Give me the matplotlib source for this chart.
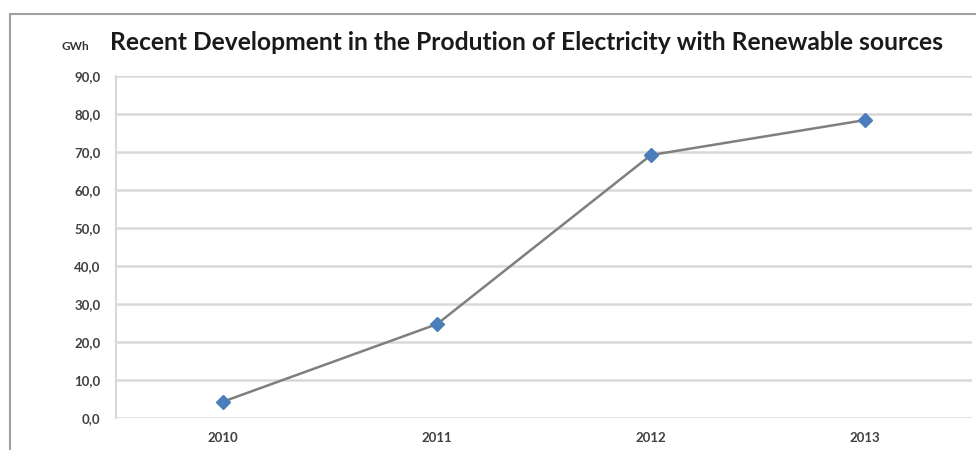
import matplotlib.pyplot as plt
from matplotlib.lines import Line2D

# Data
years = ["2010", "2011", "2012", "2013"]
gwh = [4.3, 24.7, 69.2, 78.4]
yticks = [0, 10, 20, 30, 40, 50, 60, 70, 80, 90]

plt.rcParams["font.family"] = ["Lato", "DejaVu Sans"]

fig = plt.figure(figsize=(9.76, 4.5), dpi=100)
ax = fig.add_axes([116 / 976, 1 - 418 / 450, (972 - 116) / 976, (418 - 76) / 450])

ax.plot(range(len(years)), gwh, color="#7f7f7f", linewidth=1.8, zorder=3)
ax.plot(range(len(years)), gwh, linestyle="none", marker="D", markersize=7,
        color="#4a7ebb", zorder=4)

ax.set_xlim(-0.5, len(years) - 0.5)
ax.set_ylim(0, 90)
ax.set_yticks(yticks)
ax.set_yticklabels([f"{v:.1f}".replace(".", ",") for v in yticks],
                   fontsize=9.5, fontweight="bold", color="#404040")
ax.set_xticks(range(len(years)))
ax.set_xticklabels(years, fontsize=9.5, fontweight="bold", color="#404040")
ax.tick_params(length=0, pad=11)
ax.tick_params(axis="x", pad=10)

ax.grid(axis="y", color="#d9d9d9", linewidth=1.8)
ax.set_axisbelow(True)
for s in ["top", "right", "bottom"]:
    ax.spines[s].set_visible(False)
ax.spines["left"].set_color("#d9d9d9")
ax.spines["left"].set_linewidth(1.5)

# chart frame
fig.add_artist(Line2D([10 / 976, 10 / 976], [0, 1 - 14 / 450], color="#a0a0a0", linewidth=1.5))
fig.add_artist(Line2D([10 / 976, 1], [1 - 14 / 450, 1 - 14 / 450], color="#a0a0a0", linewidth=1.5))

fig.text(110 / 976, 1 - 42 / 450, "Recent Development in the Prodution of Electricity with Renewable sources",
         fontsize=17.7, fontweight="bold", color="#1a1a1a", va="center", ha="left")
fig.text(89 / 976, 1 - 47 / 450, "GWh", fontsize=8.5, fontweight="bold",
         color="#333333", va="center", ha="right")

fig.savefig("out.png", dpi=100)
